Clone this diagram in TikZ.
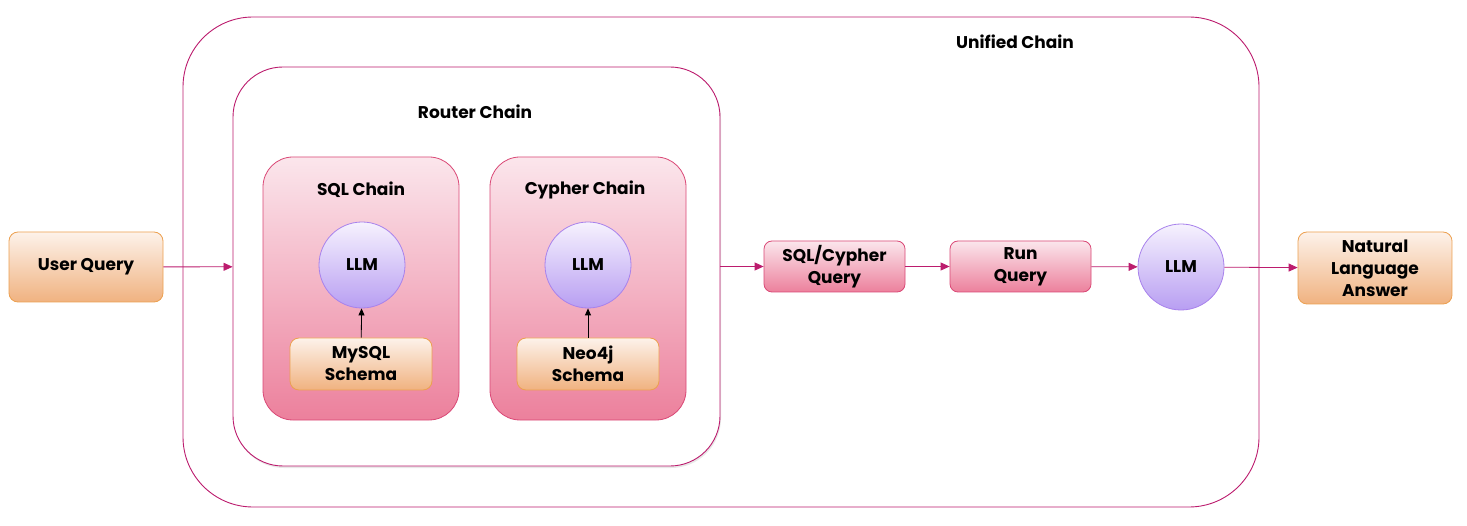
\documentclass[tikz,border=0pt]{standalone}
\usepackage{fontspec}
\setmainfont{Poppins}
\usetikzlibrary{arrows.meta,shadows}

\definecolor{chainline}{RGB}{188,28,110}
\definecolor{pinkline}{RGB}{218,72,118}
\definecolor{pinktop}{RGB}{251,230,236}
\definecolor{pinkbot}{RGB}{236,128,156}
\definecolor{orangeline}{RGB}{236,160,80}
\definecolor{orangetop}{RGB}{253,242,234}
\definecolor{orangebot}{RGB}{240,178,128}
\definecolor{llmline}{RGB}{168,130,236}
\definecolor{llmtop}{RGB}{246,242,254}
\definecolor{llmbot}{RGB}{184,158,242}

\begin{document}
\begin{tikzpicture}[x=1pt, y=-1pt, node distance = 186pt,
    font=\fontsize{17}{22}\selectfont\bfseries,
    every node/.style={align=center},
    chainbox/.style={draw=chainline, line width=0.9pt, fill=white, rounded corners=#1},
    pinkbox/.style={draw=pinkline, line width=0.8pt, rounded corners=#1,
        top color=pinktop, bottom color=pinkbot},
    orangebox/.style={draw=orangeline, line width=0.8pt, rounded corners=9pt,
        top color=orangetop, bottom color=orangebot},
    llm/.style={circle, draw=llmline, line width=0.8pt, minimum size=86pt,
        top color=llmtop, bottom color=llmbot},
    flow/.style={draw=chainline, line width=0.8pt,
        -{Triangle[length=9pt, width=8pt]}},
    feed/.style={draw=black, line width=0.8pt,
        -{Triangle[length=7pt, width=6pt]}}]
        \useasboundingbox (0,0) rectangle (1467,526);

        % containers
        \node [chainbox=70pt, minimum width=1076pt, minimum height=490pt]
            (unified) at (721,262) {};
        \node (unifiedtitle) at (1015,42) {Unified Chain};
        \node [chainbox=50pt, minimum width=487pt, minimum height=399pt,
            drop shadow={opacity=0.18, shadow xshift=1pt, shadow yshift=-2pt}]
            (router) at (476.5,266.5) {};
        \node (routertitle) at (475,112) {Router Chain};

        \node [pinkbox=30pt, minimum width=196pt, minimum height=263pt]
            (sqlchain) at (361,288.5) {};
        \node [pinkbox=30pt, minimum width=196pt, minimum height=263pt]
            (cypherchain) at (588,288.5) {};
        \node (sqltitle) at (361,190) {SQL Chain};
        \node (cyphertitle) at (585,190) {Cypher Chain};

        % inside the two chains
        \node [llm] (llmsql) at (362,265) {LLM};
        \node [llm, right of = llmsql, node distance = 226pt] (llmcypher) {LLM};
        \node [orangebox, minimum width=142pt, minimum height=52pt]
            (mysql) at (361,364) {MySQL\\Schema};
        \node [orangebox, minimum width=142pt, minimum height=52pt,
            right of = mysql, node distance = 227pt] (neo4j) {Neo4j\\Schema};

        \draw [feed] (mysql) -- (llmsql);
        \draw [feed] (neo4j) -- (llmcypher);

        % outer flow
        \node [orangebox, minimum width=154pt, minimum height=70pt]
            (userquery) at (86,267) {User Query};
        \node [pinkbox=8pt, minimum width=141pt, minimum height=51pt]
            (gquery) at (834.5,266.5) {SQL/Cypher\\Query};
        \node [pinkbox=8pt, minimum width=141pt, minimum height=51pt,
            right of = gquery] (runquery) {Run\\Query};
        \node [llm] (llmanswer) at (1181,267) {LLM};
        \node [orangebox, minimum width=154pt, minimum height=72pt]
            (answer) at (1375,268) {Natural\\Language\\Answer};

        \draw [flow] (userquery) -- (router);
        \draw [flow] (router) -- (gquery);
        \draw [flow] (gquery) -- (runquery);
        \draw [flow] (runquery) -- (llmanswer);
        \draw [flow] (llmanswer) -- (answer);
    \end{tikzpicture}
\end{document}
